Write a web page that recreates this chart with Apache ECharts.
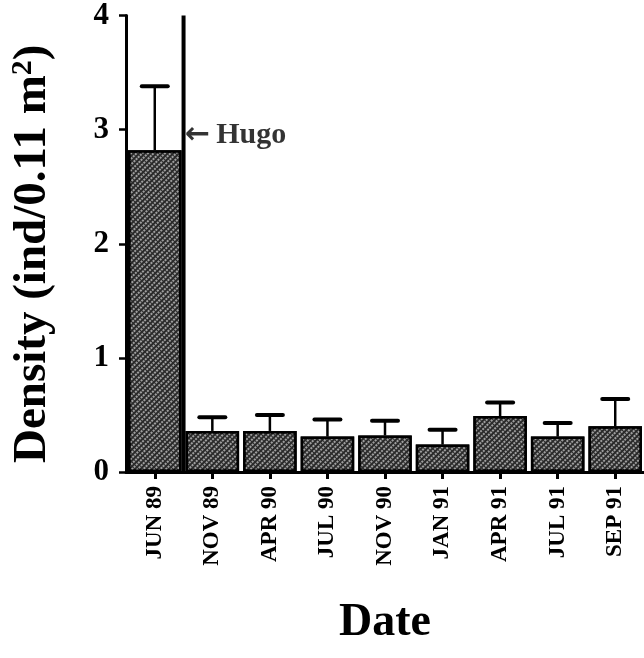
<!DOCTYPE html>
<html>
<head>
<meta charset="utf-8">
<script src="https://cdn.jsdelivr.net/npm/echarts@6/dist/echarts.min.js"></script>
<style>
html,body{margin:0;padding:0;background:#fff;}
#chart{width:644px;height:658px;}
</style>
</head>
<body>
<div id="chart"></div>
<script>
const categories = ['JUN 89','NOV 89','APR 90','JUL 90','NOV 90','JAN 91','APR 91','JUL 91','SEP 91'];
const density = [2.82, 0.36, 0.36, 0.31, 0.32, 0.24, 0.49, 0.31, 0.40];
const errorTop = [3.38, 0.48, 0.50, 0.46, 0.45, 0.37, 0.61, 0.43, 0.64];
const yTicks = [0, 1, 2, 3, 4];
const hugoIndex = 1;      // boundary after the first sample
const hugoLabelY = 2.95;

const FONT = "'Liberation Serif','Times New Roman',serif";
const chart = echarts.init(document.getElementById('chart'), null, {renderer:'canvas'});

const errData = categories.map((c, i) => [i, density[i], errorTop[i]]);

chart.setOption({
  animation: false,
  backgroundColor: '#fff',
  grid: {left: 124, right: -5, top: 12, bottom: 186, containLabel: false},
  xAxis: [{
    type: 'category',
    data: categories,
    boundaryGap: true,
    axisLine: {show: true, lineStyle: {color: '#000', width: 3}},
    axisTick: {show: true, alignWithLabel: true, length: 7, lineStyle: {color: '#000', width: 3}},
    axisLabel: {rotate: 90, margin: 14, color: '#000', fontFamily: FONT, fontWeight: 'bold', fontSize: 23},
    splitLine: {show: false},
    name: 'Date',
    nameLocation: 'middle',
    nameGap: 128,
    nameTextStyle: {color: '#000', fontFamily: FONT, fontWeight: 'bold', fontSize: 46}
  }, {
    type: 'value',
    min: 0,
    max: categories.length,
    show: false
  }],
  yAxis: {
    type: 'value',
    min: yTicks[0],
    max: yTicks[yTicks.length - 1],
    interval: 1,
    axisLine: {show: true, lineStyle: {color: '#000', width: 3}},
    axisTick: {show: true, inside: false, length: 7, lineStyle: {color: '#000', width: 2.5}},
    axisLabel: {margin: 17, color: '#000', fontFamily: FONT, fontWeight: 'bold', fontSize: 31},
    splitLine: {show: false},
    name: '{a|Density (ind/0.11 m}{s|2}{a|)}',
    nameLocation: 'middle',
    nameRotate: 90,
    nameGap: 68,
    nameTextStyle: {
      color: '#000', fontFamily: FONT, fontWeight: 'bold', fontSize: 47,
      padding: [0, 20, 0, 0],
      rich: {
        a: {color: '#000', fontFamily: FONT, fontWeight: 'bold', fontSize: 47, lineHeight: 50},
        s: {color: '#000', fontFamily: FONT, fontWeight: 'bold', fontSize: 30, verticalAlign: 'top', lineHeight: 30}
      }
    }
  },
  series: [{
    type: 'bar',
    data: density,
    barCategoryGap: '7%',
    itemStyle: {
      color: '#2a2a2a',
      borderColor: '#000',
      borderWidth: 2.5,
      decal: {
        symbol: 'rect',
        symbolSize: 1,
        dashArrayX: [[2, 2]],
        dashArrayY: [2, 1],
        rotation: 0.785,
        color: 'rgba(255,255,255,0.55)'
      }
    },
    z: 2
  }, {
    type: 'custom',
    data: errData,
    renderItem: function (params, api) {
      const x = api.value(0);
      const base = api.coord([x, api.value(1)]);
      const top = api.coord([x, api.value(2)]);
      const capHalf = 13;
      return {
        type: 'group',
        children: [
          {type: 'line', shape: {x1: base[0], y1: base[1], x2: top[0], y2: top[1]}, style: {stroke: '#000', lineWidth: 2.5}},
          {type: 'line', shape: {x1: top[0] - capHalf, y1: top[1], x2: top[0] + capHalf, y2: top[1]}, style: {stroke: '#000', lineWidth: 4, lineCap: 'round'}}
        ]
      };
    },
    z: 3
  }, {
    type: 'line',
    xAxisIndex: 1,
    data: [[hugoIndex, yTicks[0]], [hugoIndex, yTicks[yTicks.length - 1]]],
    symbol: 'none',
    lineStyle: {color: '#000', width: 4},
    z: 4
  }, {
    type: 'scatter',
    xAxisIndex: 1,
    data: [[hugoIndex, hugoLabelY]],
    symbolSize: 1,
    itemStyle: {color: 'rgba(0,0,0,0)'},
    label: {
      show: true,
      position: 'right',
      distance: 1,
      formatter: '{arr|←}{h|Hugo}',
      rich: {
        arr: {color: '#000', fontFamily: "'DejaVu Sans'", fontWeight: 'bold', fontSize: 30, padding: [0, 6, 0, 0]},
        h: {color: '#000', fontFamily: FONT, fontWeight: 'bold', fontSize: 30}
      }
    },
    z: 5
  }]
});
</script>
</body>
</html>
